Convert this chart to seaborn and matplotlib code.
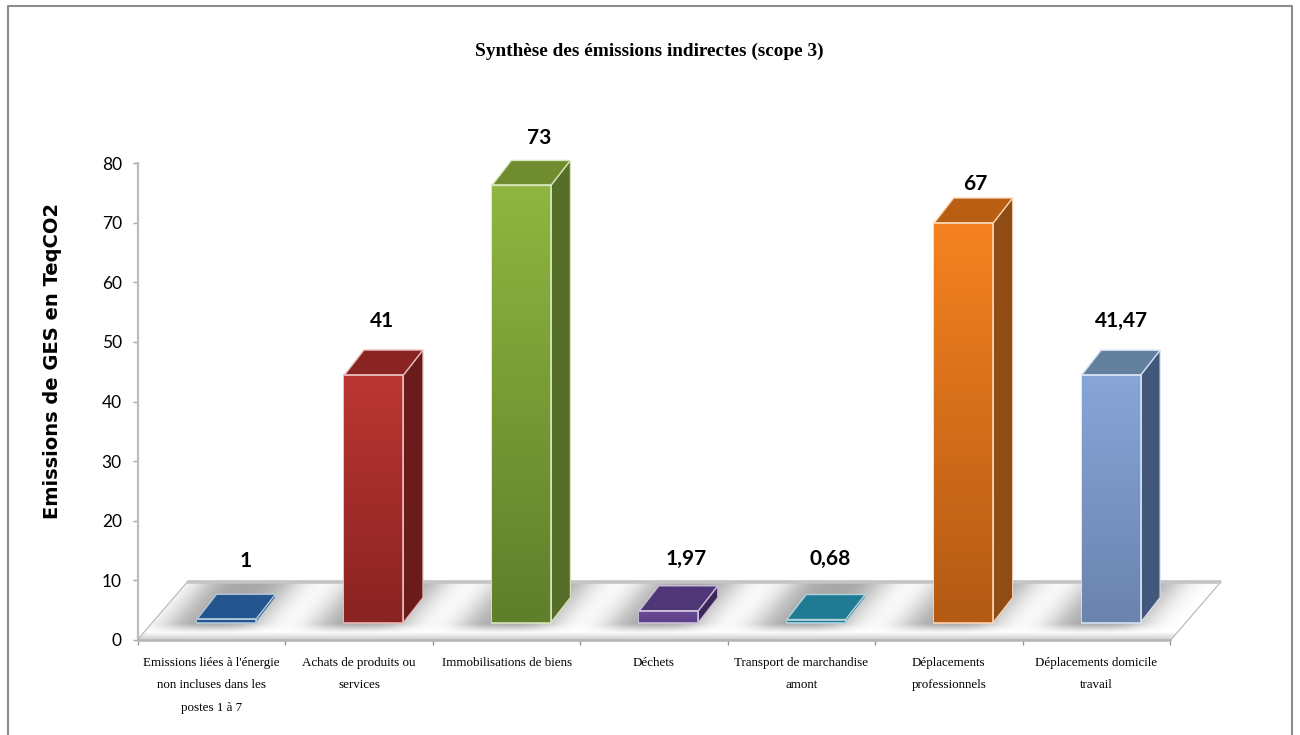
import numpy as np
import pandas as pd
import matplotlib
matplotlib.use("Agg")
import matplotlib.pyplot as plt
import seaborn as sns
from matplotlib.colors import to_rgb
from matplotlib.lines import Line2D
from matplotlib.patches import Polygon, Rectangle

# =========================
# Data
# =========================
categories = [
    "Emissions liées à l'énergie\nnon incluses dans les\npostes 1 à 7",
    "Achats de produits ou\nservices",
    "Immobilisations de biens",
    "Déchets",
    "Transport de marchandise\namont",
    "Déplacements\nprofessionnels",
    "Déplacements domicile\ntravail",
]
# heights
values = [0.55, 41.5, 73.3, 1.97, 0.5, 67, 41.47]
value_labels = ["1", "41", "73", "1,97", "0,68", "67", "41,47"]
y_ticks = [0, 10, 20, 30, 40, 50, 60, 70, 80]

# colours: front top, front bottom, side, top
front_top = ["#2a62a0", "#bb3632", "#8fb640", "#6d4c98", "#25859e", "#f58220", "#88a5d8"]
front_bottom = ["#23558f", "#8a2322", "#5f7f2b", "#5c3f86", "#217a94", "#b35a15", "#6a84ae"]
side_col = ["#1c4474", "#6a1b1a", "#566f28", "#3c2858", "#1b6379", "#8f4c14", "#43577a"]
top_col = ["#23558f", "#892423", "#6f8c2f", "#4f3676", "#217a94", "#b85f14", "#64809f"]

# label offsets from the front bar centre / top back edge, in pixels
label_dx = [19, 8, 18, 17, 14, 12, 10]
label_dy = [33, 29, 22, 27, 36, 14, 29]

# =========================
# Figure
# =========================
sns.set_theme(style="white")
W, H = 1300, 735
fig = plt.figure(figsize=(13, 7.35), dpi=100)
ax = fig.add_axes([138 / W, 1 - 640 / H, (1170 - 138) / W, (640 - 163) / H])

df = pd.DataFrame({"categorie": categories, "valeur": values})
sns.barplot(data=df, x="categorie", y="valeur", width=0.4, color="#888888", ax=ax, zorder=3)

ax.set_xlim(-0.5, 6.5)
ax.set_ylim(0, 80)

# 3D geometry in data units
px_x = 7 / (1170 - 138)
px_y = 80 / (640 - 163)
base = 17.5 * px_y
shift = 14.8 * px_x
depth_x = 19.5 * px_x
depth_y = 25 * px_y
floor_x = 50 * px_x
floor_y = 58 * px_y

# =========================
# Floor with shadows
# =========================
xg, yg = np.meshgrid(np.linspace(-0.5, 6.5 + floor_x, 900), np.linspace(0, floor_y, 160))
v = yg / floor_y
u = xg - floor_x * v
shade = np.zeros_like(u)
for i in range(len(categories)):
    shade += np.exp(-(np.abs(u - i + 0.08) / 0.34) ** 3)
depth_fade = np.clip((v - 0.12) / 0.16, 0, 1)
gray = 1 - 0.34 * shade * depth_fade
gray -= 0.2 * np.clip(1 - v / 0.14, 0, 1)
gray = np.clip(gray, 0, 1)

floor_pts = [(-0.5, 0), (6.5, 0), (6.5 + floor_x, floor_y), (-0.5 + floor_x, floor_y)]
floor = Polygon(floor_pts, closed=True, facecolor="white", edgecolor="#b5b5b5", lw=1.6,
                clip_on=False, zorder=1)
ax.add_patch(floor)
im = ax.imshow(gray, extent=[-0.5, 6.5 + floor_x, 0, floor_y], origin="lower", cmap="gray",
               vmin=0, vmax=1, aspect="auto", interpolation="bilinear", zorder=1.2)
im.set_clip_path(floor)
im.set_clip_box(fig.bbox)
ax.add_line(Line2D([-0.5 + floor_x, 6.5 + floor_x], [floor_y, floor_y], color="#c4c4c4", lw=2.6,
                   clip_on=False, zorder=1.5))
ax.add_line(Line2D([-0.5, 6.5], [0, 0], color="#b5b5b5", lw=1.8, clip_on=False, zorder=1.5))

# =========================
# Bars
# =========================
for p in ax.patches[:]:
    if not isinstance(p, Rectangle) or p is floor:
        continue
    idx = int(round(p.get_x() + p.get_width() / 2))
    h = p.get_height()
    x0 = p.get_x() + shift
    x1 = x0 + p.get_width()
    y0, y1 = base, base + h
    p.set_x(x0)
    p.set_y(y0)
    p.set_facecolor(front_bottom[idx])
    edge = tuple(np.array(to_rgb(front_top[idx])) * 0.35 + 0.65)
    p.set_edgecolor(edge)
    p.set_linewidth(1.2)

    grad = np.linspace(to_rgb(front_bottom[idx]), to_rgb(front_top[idx]), 64).reshape(64, 1, 3)
    bar_im = ax.imshow(grad, extent=[x0, x1, y0, y1], origin="lower", aspect="auto",
                       interpolation="bilinear", zorder=3.1)
    bar_im.set_clip_path(p)

    side = [(x1, y0), (x1 + depth_x, y0 + depth_y), (x1 + depth_x, y1 + depth_y), (x1, y1)]
    top = [(x0, y1), (x1, y1), (x1 + depth_x, y1 + depth_y), (x0 + depth_x, y1 + depth_y)]
    ax.add_patch(Polygon(side, closed=True, facecolor=side_col[idx], edgecolor=edge, lw=0.8,
                         zorder=2.9, clip_on=False))
    ax.add_patch(Polygon(top, closed=True, facecolor=top_col[idx], edgecolor=edge, lw=1.0,
                         zorder=3.2, clip_on=False))
    ax.add_line(Line2D([x0, x1, x1], [y1, y1, y0], color=edge, lw=1.2, zorder=3.3))

    ax.annotate(value_labels[idx], xy=((x0 + x1) / 2, y1 + depth_y),
                xytext=(label_dx[idx], label_dy[idx]), textcoords="offset pixels",
                ha="center", va="center", fontsize=15, fontweight="bold",
                family="Lato", color="black", annotation_clip=False)

# =========================
# Axes
# =========================
ax.set_xlabel("")
ax.set_ylabel("")
ax.set_yticks(y_ticks)
ax.set_yticklabels([str(t) for t in y_ticks], fontsize=12.5, family="Lato", color="black")
ax.set_xticks(range(len(categories)))
ax.set_xticklabels(categories, fontsize=9.4, family="Liberation Serif", color="black", linespacing=2.2)
ax.set_xticks(np.arange(-0.5, 7, 1), minor=True)
ax.tick_params(axis="x", which="major", length=0, pad=12)
ax.tick_params(axis="x", which="minor", length=3.5, width=0.9, color="#8f8f8f", bottom=True)
ax.tick_params(axis="y", length=3.6, width=1, color="#a8a8a8", left=True, pad=8)
for name in ["top", "right", "bottom"]:
    ax.spines[name].set_visible(False)
ax.spines["left"].set_color("#bcbcbc")
ax.spines["left"].set_linewidth(1.6)
ax.patch.set_alpha(0)
ax.set_xlim(-0.5, 6.5)
ax.set_ylim(0, 80)

fig.text(649 / W, 1 - 51 / H, "Synthèse des émissions indirectes (scope 3)", ha="center", va="center",
         fontsize=13.9, fontweight="bold", family="Liberation Serif", color="black")
fig.text(53 / W, 1 - 361 / H, "Emissions de GES en TeqCO2", rotation=90, ha="center", va="center",
         fontsize=14, fontweight="bold", family="DejaVu Sans", color="black")

# outer frame, open at the bottom of the picture
fig.add_artist(Line2D([8 / W, 8 / W, 1292 / W, 1292 / W], [0, 1 - 6 / H, 1 - 6 / H, 0],
                      color="#8c8c8c", lw=1.5, transform=fig.transFigure))

fig.savefig("out.png", dpi=100)
